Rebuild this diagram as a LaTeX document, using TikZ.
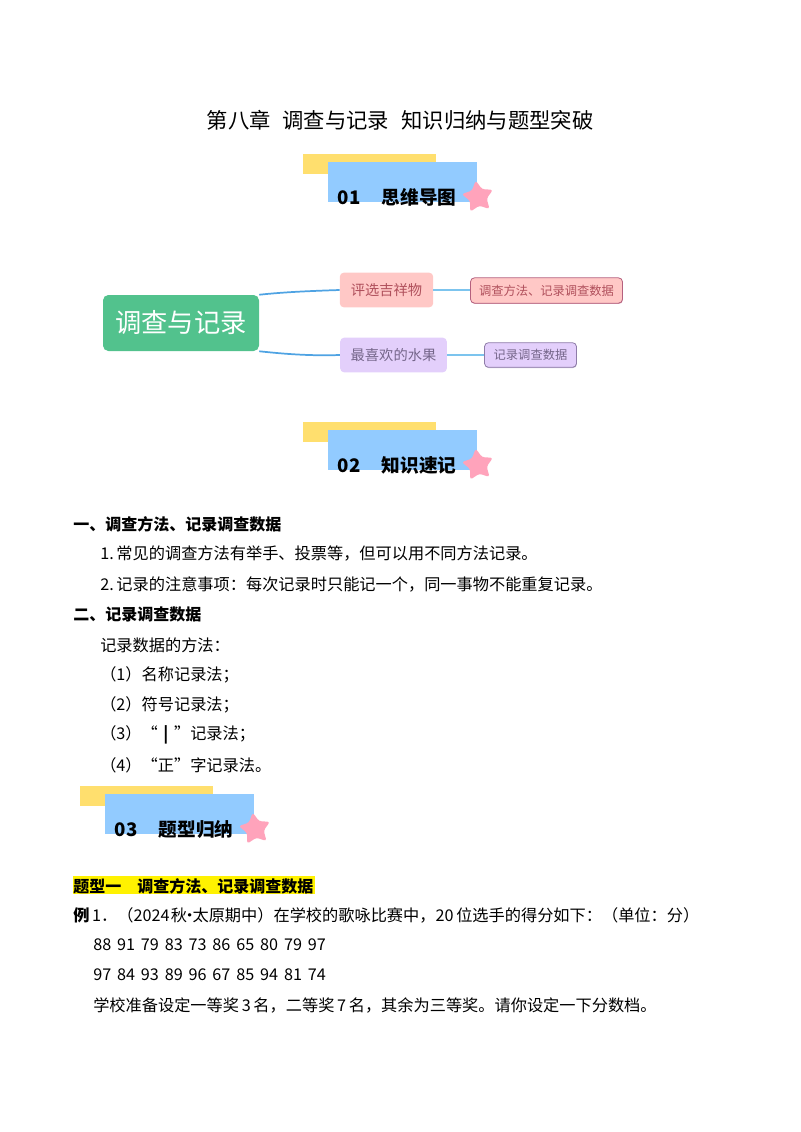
\documentclass[tikz,border=0pt]{standalone}
\usepackage{fontspec}
\setmainfont{Noto Sans CJK SC}
\usetikzlibrary{shapes.geometric,shadows}
\definecolor{bannerY}{HTML}{FFDF6E}
\definecolor{bannerB}{HTML}{92CBFF}
\definecolor{starP}{HTML}{FFA3BB}
\definecolor{rootG}{HTML}{52C28D}
\definecolor{linkB}{HTML}{4FA3E3}
\definecolor{linkL}{HTML}{7CC4EE}
\definecolor{pinkF}{HTML}{FFC8C6}
\definecolor{pinkT}{HTML}{B0505C}
\definecolor{pinkD}{HTML}{B5607E}
\definecolor{lilacF}{HTML}{E3CFFB}
\definecolor{lilacT}{HTML}{75668A}
\definecolor{lilacD}{HTML}{8E7CA8}
\tikzset{
  body/.style={anchor=west, inner sep=0pt, font=\fontsize{12.15pt}{14pt}\selectfont},
  head/.style={body, font=\fontsize{12pt}{14pt}\selectfont\bfseries},
  bannertext/.style={inner sep=0pt, font=\fontsize{14pt}{16pt}\selectfont\bfseries},
  branch/.style={rounded corners=3pt, inner sep=0pt, font=\fontsize{10.7pt}{14pt}\selectfont},
  leaf/.style={rounded corners=3pt, inner sep=0pt, line width=0.6pt, font=\fontsize{9.2pt}{12pt}\selectfont},
}
\newcommand{\gapnum}{\hspace{4.4pt}}
\begin{document}
\begin{tikzpicture}[x=0.75pt, y=-0.75pt]
    \useasboundingbox (0,0) rectangle (800,1132);
    \node[inner sep=0pt, font=\fontsize{16pt}{18pt}\selectfont] (title) at (400,120) {第八章\hspace{9pt}调查与记录\hspace{9pt}知识归纳与题型突破};
    % banners
    \foreach \bx/\by/\bnum/\bname in {303/154/01/思维导图, 303/422/02/知识速记, 80/786/03/题型归纳} {
        \fill[bannerY] (\bx,\by) rectangle +(133,20);
        \fill[bannerB] (\bx+25,\by+8) rectangle +(149,40);
        \node[star, star points=5, star point ratio=1.9, minimum size=25pt, inner sep=0pt, fill=starP, rounded corners=2pt, shape border rotate=8] (star\bnum) at (\bx+175,\by+43) {};
        \node[bannertext] (banner\bnum) at (\bx+94,\by+43) {\bnum\hspace{16pt}\bname};
    }
    % mind map
    \node[fill=rootG, text=white, rounded corners=4pt, minimum width=117pt, minimum height=42pt, inner sep=0pt, font=\fontsize{19.7pt}{24pt}\selectfont] (root) at (181,323) {调查与记录};
    \node[branch, fill=pinkF, text=pinkT, minimum width=70pt, minimum height=26pt] (pick) at (386.5,290) {评选吉祥物};
    \node[branch, fill=lilacF, text=lilacT, minimum width=80pt, minimum height=26pt] (fruit) at (393.5,355) {最喜欢的水果};
    \node[leaf, fill=pinkF, draw=pinkD, text=pinkT, minimum width=114pt, minimum height=19pt, drop shadow={shadow xshift=0.3pt, shadow yshift=-0.6pt, fill=pinkD}] (pickleaf) at (546.5,290.5) {调查方法、记录调查数据};
    \node[leaf, fill=lilacF, draw=lilacD, text=lilacT, minimum width=69pt, minimum height=18.5pt, drop shadow={shadow xshift=0.3pt, shadow yshift=-0.6pt, fill=lilacD}] (fruitleaf) at (530.5,355) {记录调查数据};
    \draw[linkB, line width=1.3pt] (root.north east) .. controls (285,292) and (310,291) .. (pick.west);
    \draw[linkB, line width=1.3pt] (root.south east) .. controls (285,354) and (310,356) .. (fruit.west);
    \draw[linkL, line width=0.9pt] (pick.east) -- (pick.east -| pickleaf.west);
    \draw[linkL, line width=0.9pt] (fruit.east) -- (fruit.east -| fruitleaf.west);
    % notes
    \node[head] (h1) at (73,524) {一、调查方法、记录调查数据};
    \node[body] (n1) at (100,554) {1.\,常见的调查方法有举手、投票等，但可以用不同方法记录。};
    \node[body] (n2) at (100,584) {2.\,记录的注意事项：每次记录时只能记一个，同一事物不能重复记录。};
    \node[head] (h2) at (73,614) {二、记录调查数据};
    \node[body] (m0) at (100,645) {记录数据的方法：};
    \node[body] (m1) at (100,675) {（1）名称记录法；};
    \node[body] (m2) at (100,705) {（2）符号记录法；};
    \node[body] (m3) at (100,735) {（3）“\makebox[1em]{\textbf{|}}”记录法；};
    \node[body] (m4) at (100,765) {（4）“正”字记录法。};
    % question
    \fill[yellow] (73,876) rectangle (315,894);
    \node[head] (q0) at (73,886) {题型一\hspace{12pt}调查方法、记录调查数据};
    \node[body] (q1) at (73,915) {\textbf{例}\,1．（2024\hspace{1pt}秋\hspace{-4pt}•\hspace{-4pt}太原期中）在学校的歌咏比赛中，20\,位选手的得分如下：（单位：分）};
    \node[body] (q2) at (93,945) {88\gapnum 91\gapnum 79\gapnum 83\gapnum 73\gapnum 86\gapnum 65\gapnum 80\gapnum 79\gapnum 97};
    \node[body] (q3) at (93,975) {97\gapnum 84\gapnum 93\gapnum 89\gapnum 96\gapnum 67\gapnum 85\gapnum 94\gapnum 81\gapnum 74};
    \node[body] (q4) at (93,1005) {学校准备设定一等奖\,3\,名，二等奖\,7\,名，其余为三等奖。请你设定一下分数档。};
\end{tikzpicture}
\end{document}
